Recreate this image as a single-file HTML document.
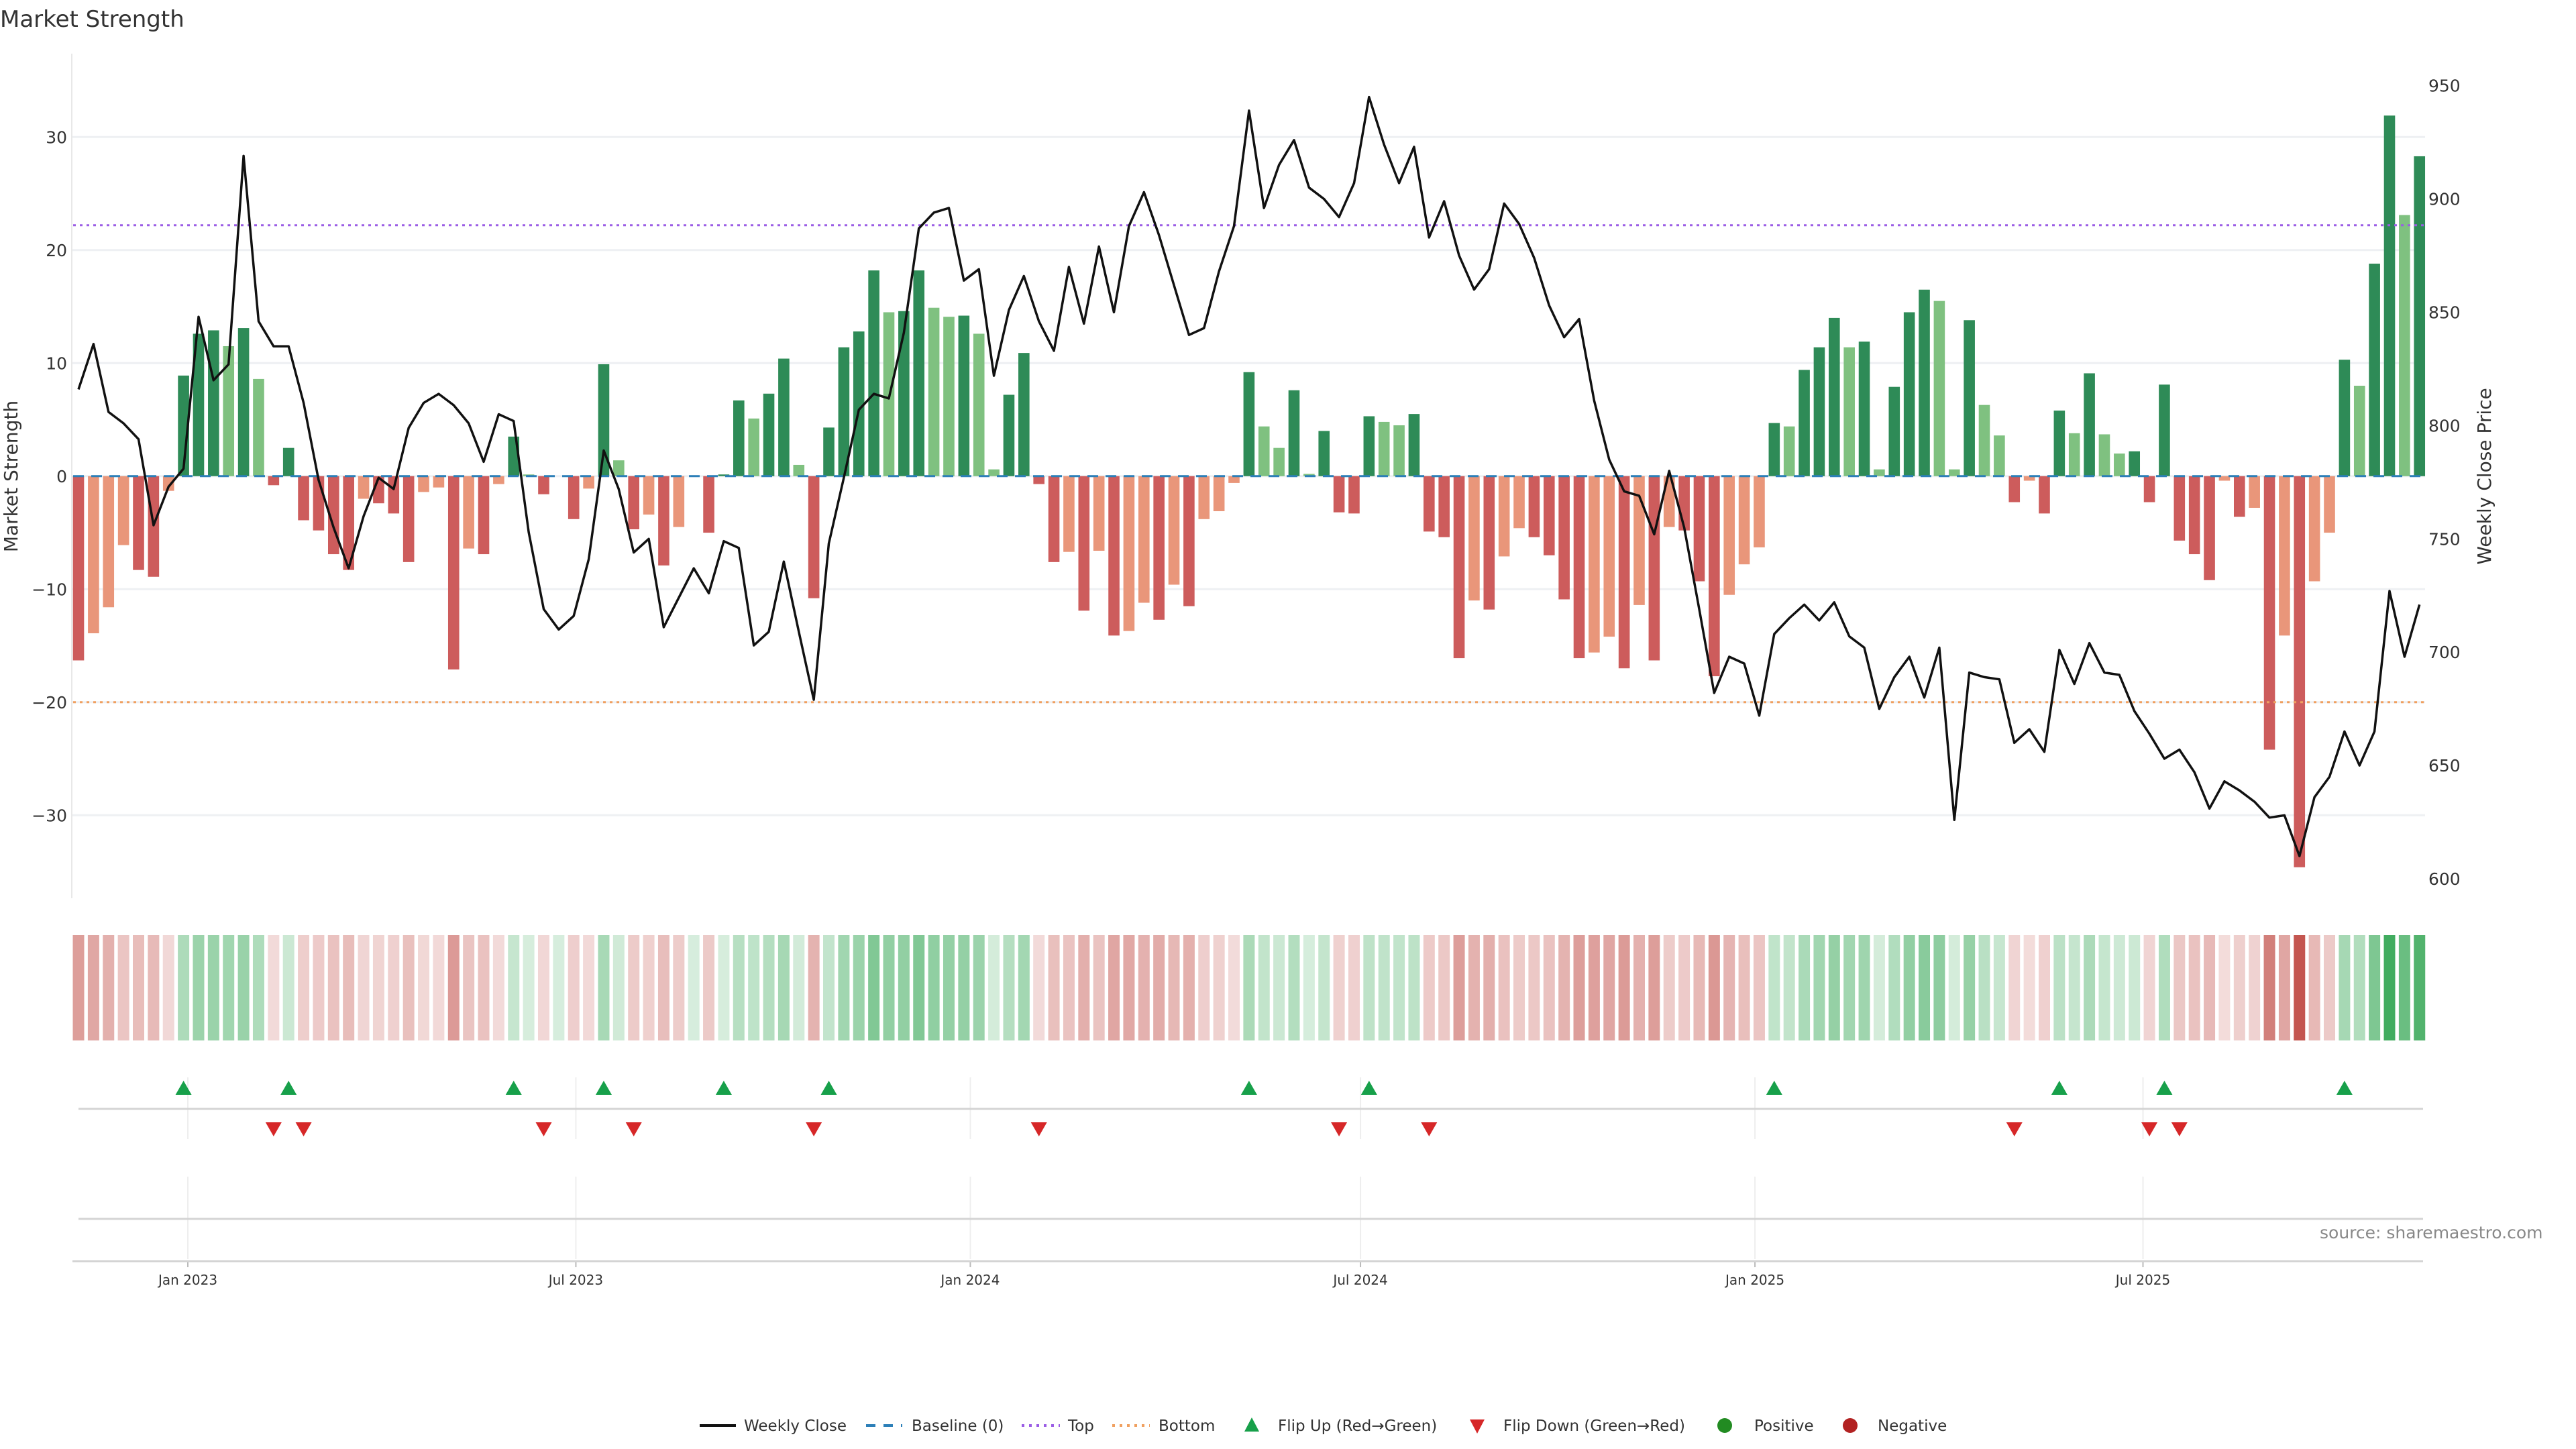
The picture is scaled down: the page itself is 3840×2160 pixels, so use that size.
<!DOCTYPE html>
<html><head><meta charset="utf-8"><title>Market Strength</title>
<style>
html,body{margin:0;padding:0;background:#fff;}
svg{display:block;font-family:"DejaVu Sans","Liberation Sans",sans-serif;}
</style></head>
<body>
<svg id="chart" xmlns="http://www.w3.org/2000/svg" width="3840" height="2160" viewBox="0 0 3840 2160">
<rect x="0" y="0" width="3840" height="2160" fill="#fff"/>
<text x="0" y="40" font-size="34" fill="#333">Market Strength</text>
<text transform="translate(26,710) rotate(-90)" text-anchor="middle" font-size="28" fill="#333">Market Strength</text>
<text transform="translate(3713,710) rotate(-90)" text-anchor="middle" font-size="28" fill="#333">Weekly Close Price</text>
<text x="3458" y="1846" font-size="25" fill="#888">source: sharemaestro.com</text>
<g id="legend" font-size="23" fill="#333">
 <g><line x1="1043" y1="2125" x2="1097" y2="2125" stroke="#111" stroke-width="4"/><text x="1109" y="2133">Weekly Close</text></g>
 <g><line x1="1291" y1="2125" x2="1345" y2="2125" stroke="#2c7fb8" stroke-width="4" stroke-dasharray="14,12"/><text x="1359" y="2133">Baseline (0)</text></g>
 <g><line x1="1523" y1="2125" x2="1580" y2="2125" stroke="#9b5de5" stroke-width="4" stroke-dasharray="4,7"/><text x="1592" y="2133">Top</text></g>
 <g><line x1="1658" y1="2125" x2="1714" y2="2125" stroke="#f0a060" stroke-width="4" stroke-dasharray="4,7"/><text x="1727" y="2133">Bottom</text></g>
 <g><polygon points="1866,2113 1877,2134 1855,2134" fill="#17a04a"/><text x="1905" y="2133">Flip Up (Red→Green)</text></g>
 <g><polygon points="2191,2116 2213,2116 2202,2137" fill="#d62728"/><text x="2241" y="2133">Flip Down (Green→Red)</text></g>
 <g><circle cx="2571" cy="2125" r="11" fill="#228b22"/><text x="2615" y="2133">Positive</text></g>
 <g><circle cx="2758" cy="2125" r="11" fill="#b22222"/><text x="2799" y="2133">Negative</text></g>
</g>
</svg>
<script>
const strength = [-16.3,-13.9,-11.6,-6.1,-8.3,-8.9,-1.3,8.9,12.6,12.9,
11.5,13.1,8.6,-0.8,2.5,-3.9,-4.8,-6.9,-8.3,-2.0,
-2.4,-3.3,-7.6,-1.4,-1.0,-17.1,-6.4,-6.9,-0.7,3.5,
0.15,-1.6,0,-3.8,-1.1,9.9,1.4,-4.7,-3.4,-7.9,
-4.5,0,-5.0,0.15,6.7,5.1,7.3,10.4,1.0,-10.8,
4.3,11.4,12.8,18.2,14.5,14.6,18.2,14.9,14.1,14.2,
12.6,0.6,7.2,10.9,-0.7,-7.6,-6.7,-11.9,-6.6,-14.1,
-13.7,-11.2,-12.7,-9.6,-11.5,-3.8,-3.1,-0.6,9.2,4.4,
2.5,7.6,0.2,4.0,-3.2,-3.3,5.3,4.8,4.5,5.5,
-4.9,-5.4,-16.1,-11.0,-11.8,-7.1,-4.6,-5.4,-7.0,-10.9,
-16.1,-15.6,-14.2,-17.0,-11.4,-16.3,-4.5,-4.8,-9.3,-17.7,
-10.5,-7.8,-6.3,4.7,4.4,9.4,11.4,14.0,11.4,11.9,
0.6,7.9,14.5,16.5,15.5,0.6,13.8,6.3,3.6,-2.3,
-0.4,-3.3,5.8,3.8,9.1,3.7,2.0,2.2,-2.3,8.1,
-5.7,-6.9,-9.2,-0.4,-3.6,-2.8,-24.2,-14.1,-34.6,-9.3,
-5.0,10.3,8.0,18.8,31.9,23.1,28.3];
const weeklyClose = [816,836,806,801,794,756,773,781,848,820,
827,919,846,835,835,810,776,755,737,760,
777,772,799,810,814,809,801,784,805,802,
753,719,710,716,741,789,772,744,750,711,
724,737,726,749,746,703,709,740,709,679,
748,777,807,814,812,841,887,894,896,864,
869,822,851,866,846,833,870,845,879,850,
888,903,884,862,840,843,868,888,939,896,
915,926,905,900,892,907,945,924,907,923,
883,899,875,860,869,898,889,874,853,839,
847,811,785,771,769,752,780,755,719,682,
698,695,672,708,715,721,714,722,707,702,
675,689,698,680,702,626,691,689,688,660,
666,656,701,686,704,691,690,674,664,653,
657,647,631,643,639,634,627,628,610,636,
645,665,650,665,727,698,721];
const leftTicks = [-30,-20,-10,0,10,20,30];
const rightTicks = [600,650,700,750,800,850,900,950];
const dateTicks = ["2023-01-01","2023-07-01","2024-01-01","2024-07-01","2025-01-01","2025-07-01"];
const dateTickLabels = ["Jan 2023","Jul 2023","Jan 2024","Jul 2024","Jan 2025","Jul 2025"];
const firstWeek = "2022-11-11";
const topLevel = 22.2;
const bottomLevel = -20;

const NS = "http://www.w3.org/2000/svg";
const svg = document.getElementById("chart");
const DAY = 86400000;
const t0 = Date.parse("2023-01-01T00:00:00Z");
function xDate(s){ return 280 + (Date.parse(s+"T00:00:00Z") - t0)/DAY * 22.37/7; }
const xBar0 = xDate(firstWeek);
function xIdx(i){ return xBar0 + 22.37*i; }
function yL(v){ return 709.8 - v*16.85; }
function yR(p){ return 127.7 + (950-p)*3.378; }
function mk(tag, attrs, parent){ const e=document.createElementNS(NS,tag); for(const k in attrs) e.setAttribute(k,attrs[k]); (parent||svg).appendChild(e); return e; }

const PL=108, PR=3615;
const grid = mk("g",{});


leftTicks.forEach(t=>{
  const g = mk("line",{x1:PL,x2:PR,y1:yL(t),y2:yL(t),stroke:"#eef0f3","stroke-width":3},grid);
  
  
  const tx = mk("text",{x:100,y:yL(t)+9,"text-anchor":"end","font-size":25,fill:"#333"});
  
  
  tx.textContent = (t<0?"\u2212"+Math.abs(t):String(t));
});
rightTicks.forEach(t=>{
  const tx = mk("text",{x:3620,y:yR(t)+9,"font-size":25,fill:"#333"});
  
  
  tx.textContent = String(t);
});
const axL = mk("line",{x1:107,x2:107,y1:80,y2:1339,stroke:"#e8e8e8","stroke-width":2});



const barsG = mk("g",{});


strength.forEach((v,i)=>{
  const prev = i>0?strength[i-1]:0;
  let col;
  if(v>=0) col = (v>=prev)?"#2e8b57":"#7fc180";
  else col = (v<prev)?"#cd5c5c":"#e9967a";
  const y0=yL(0), y1=yL(v);
  const r = mk("rect",{x:xIdx(i)-8.3,y:Math.min(y0,y1),width:16.6,height:Math.max(Math.abs(y1-y0),0.01),fill:col},barsG);
  
  
});
const xs=xIdx(0)-8, xe=xIdx(strength.length-1)+8;
const base = mk("line",{x1:xs,x2:xe,y1:yL(0),y2:yL(0),stroke:"#2c7fb8","stroke-width":3,"stroke-dasharray":"16,11"});


const topL = mk("line",{x1:xs,x2:xe,y1:yL(topLevel),y2:yL(topLevel),stroke:"#9b5de5","stroke-width":3,"stroke-dasharray":"4,6"});


const botL = mk("line",{x1:xs,x2:xe,y1:yL(bottomLevel),y2:yL(bottomLevel),stroke:"#f0a060","stroke-width":3,"stroke-dasharray":"4,6"});


const pts = weeklyClose.map((p,i)=>xIdx(i).toFixed(1)+","+yR(p).toFixed(1)).join(" ");
const pl = mk("polyline",{points:pts,fill:"none",stroke:"#111","stroke-width":3.5,"stroke-linejoin":"round"});



const maxAbs = Math.max(...strength.map(Math.abs));
const bandG = mk("g",{});


function mix(c,a){ return "rgb("+c.map(x=>Math.round(255-(255-x)*a)).join(",")+")"; }
strength.forEach((v,i)=>{
  const a = 0.2 + 0.8*Math.abs(v)/maxAbs;
  const col = v>=0 ? mix([52,166,84],a) : mix([196,86,80],a);
  const r = mk("rect",{x:xIdx(i)-8.5,y:1394,width:17,height:157,fill:col},bandG);
  
  
});

const panelG = mk("g",{});


dateTicks.forEach((d,k)=>{
  const x = xDate(d);
  const g1 = mk("line",{x1:x,x2:x,y1:1606,y2:1698,stroke:"#eeeeee","stroke-width":2},panelG);
  
  
  const g2 = mk("line",{x1:x,x2:x,y1:1754,y2:1877,stroke:"#eeeeee","stroke-width":2},panelG);
  
  
  const tk = mk("line",{x1:x,x2:x,y1:1880,y2:1889,stroke:"#bbb","stroke-width":2});
  
  
  const tl = mk("text",{x:x,y:1915,"text-anchor":"middle","font-size":20,fill:"#333"});
  
  
  tl.textContent = dateTickLabels[k];
});
const sep1 = mk("line",{x1:117,x2:3612,y1:1653,y2:1653,stroke:"#d4d4d4","stroke-width":3},panelG);


const sep2 = mk("line",{x1:117,x2:3612,y1:1817,y2:1817,stroke:"#d4d4d4","stroke-width":3},panelG);


const axB = mk("line",{x1:108,x2:3612,y1:1880,y2:1880,stroke:"#d4d4d4","stroke-width":3});



let lastSign = 0;
strength.forEach((v,i)=>{
  const s = v>0?1:(v<0?-1:0);
  if(s===0) return;
  if(lastSign!==0 && s!==lastSign){
    const x = xIdx(i);
    let m;
    if(s>0) m = mk("polygon",{points:`${x},${1611} ${x+12},${1632} ${x-12},${1632}`,fill:"#17a04a"},panelG);
    else m = mk("polygon",{points:`${x-12},${1673} ${x+12},${1673} ${x},${1694}`,fill:"#d62728"},panelG);
    
    
  }
  lastSign = s;
});
</script>
</body></html>
